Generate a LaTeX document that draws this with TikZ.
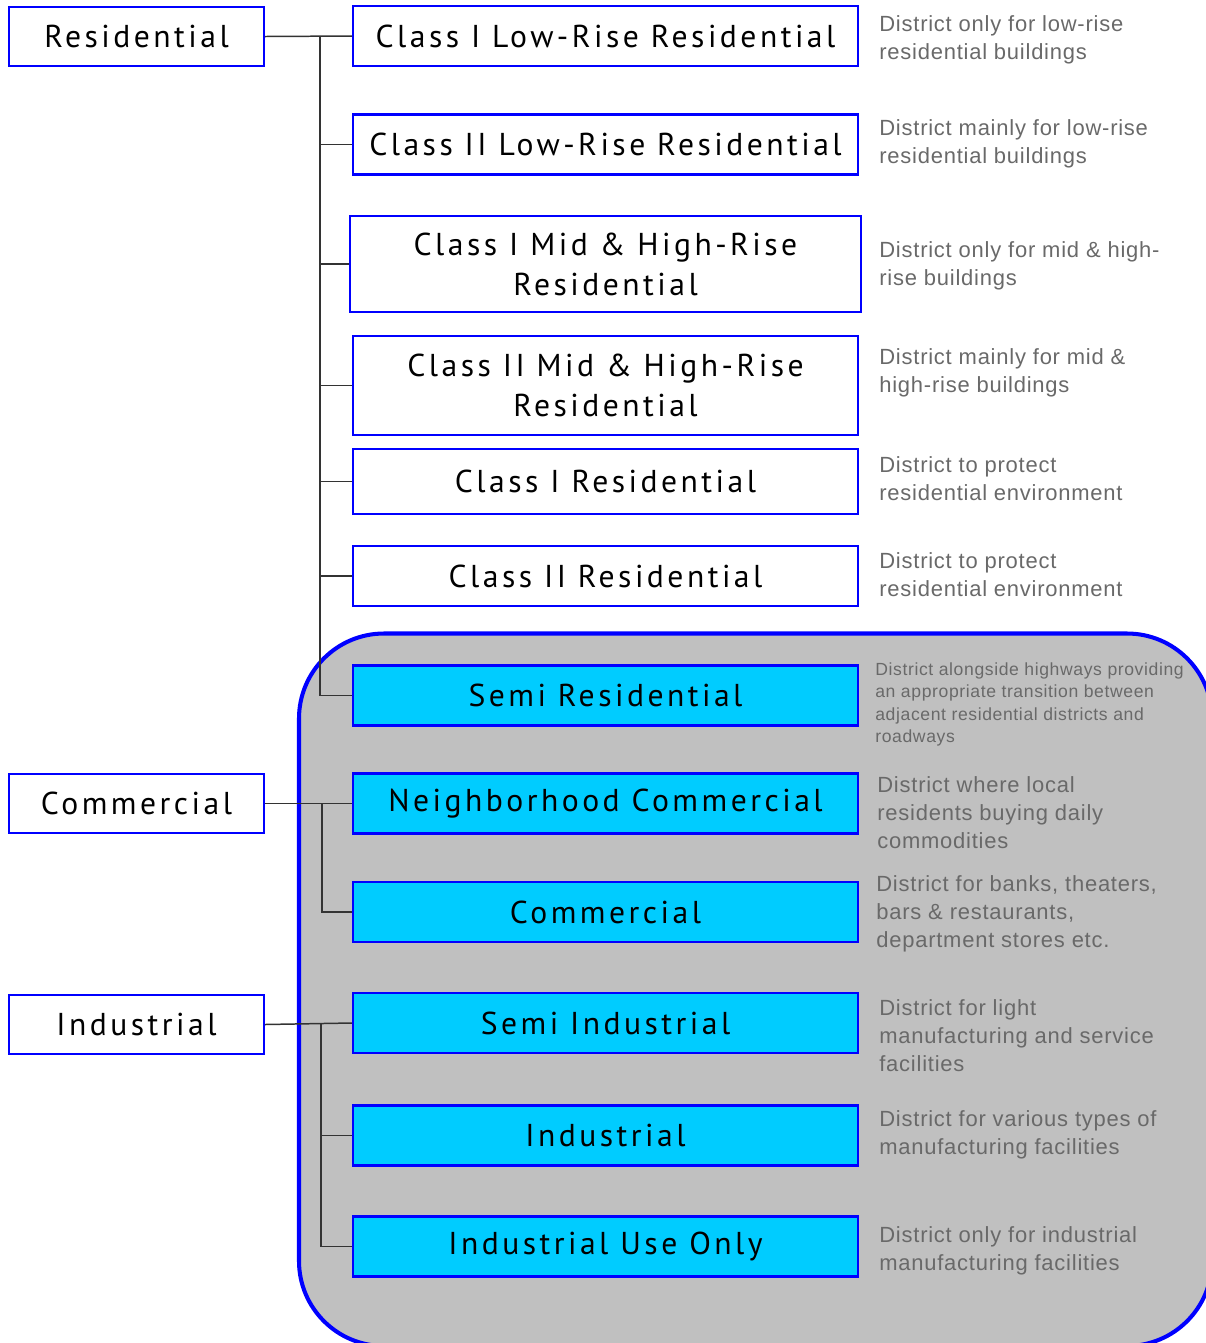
\documentclass[tikz,border=0pt]{standalone}
\usepackage{fontspec}
\newfontfamily\boitefont[LetterSpace=11]{PT Sans}
\newfontfamily\legendefont[LetterSpace=3.5]{Liberation Sans}
\definecolor{bleuBord}{RGB}{0,0,255}
\definecolor{cyanBoite}{RGB}{0,204,255}
\definecolor{grisFond}{RGB}{192,192,192}
\definecolor{grisLien}{RGB}{51,51,51}
\definecolor{grisTexte}{RGB}{105,105,105}
\begin{document}
\begin{tikzpicture}
	\tikzstyle{boite}=[draw=bleuBord,line width=1.4pt,fill=white,minimum width=10.1cm,minimum height=1.2cm,inner sep=0pt,align=center,font=\boitefont\fontsize{18}{22.7}\selectfont]
	\tikzstyle{boiteB}=[boite,fill=cyanBoite]
	\tikzstyle{groupe}=[boite,minimum width=5.1cm,minimum height=1.18cm]
	\tikzstyle{lien}=[draw=grisLien,line width=0.85pt]
	\tikzstyle{legende}=[anchor=west,align=left,inner sep=0pt,text=grisTexte,font=\legendefont\fontsize{12.5}{15.9}\selectfont]
	\def\ColonneG{2.73}
	\def\ColonneD{12.11}
	\def\ColonneL{17.58}
	\useasboundingbox (0,0) rectangle (24.12,-26.86);
	% zone grise
	\draw[fill=grisFond,draw=bleuBord,line width=2.3pt,rounded corners=1.7cm] (5.98,-12.67) rectangle (24.24,-26.92);
	% groupes
	\node[groupe] (Res) at (\ColonneG,-0.73) {Residential};
	\node[groupe] (Com) at (\ColonneG,-16.07) {Commercial};
	\node[groupe] (Ind) at (\ColonneG,-20.49) {Industrial};
	% zones
	\node[boite] (BasI) at (\ColonneD,-0.72) {Class I Low-Rise Residential};
	\node[boite] (BasII) at (\ColonneD,-2.89) {Class II Low-Rise Residential};
	\node[boite,minimum width=10.22cm,minimum height=1.92cm] (MoyI) at (\ColonneD,-5.28) {Class I Mid \& High-Rise\\Residential};
	\node[boite,minimum height=1.98cm] (MoyII) at (\ColonneD,-7.71) {Class II Mid \& High-Rise\\Residential};
	\node[boite,minimum height=1.3cm] (ResI) at (\ColonneD,-9.63) {Class I Residential};
	\node[boite] (ResII) at (\ColonneD,-11.52) {Class II Residential};
	\node[boiteB] (SemiRes) at (\ColonneD,-13.91) {Semi Residential};
	\node[boiteB] (Voisin) at (\ColonneD,-16.07) {Neighborhood Commercial};
	\node[boiteB] (Comm) at (\ColonneD,-18.24) {Commercial};
	\node[boiteB] (SemiInd) at (\ColonneD,-20.46) {Semi Industrial};
	\node[boiteB] (Indu) at (\ColonneD,-22.71) {Industrial};
	\node[boiteB] (IndSeul) at (\ColonneD,-24.93) {Industrial Use Only};
	% legendes
	\node[legende] (L1) at (\ColonneL,-0.79) {District only for low-rise\\residential buildings};
	\node[legende] (L2) at (\ColonneL,-2.88) {District mainly for low-rise\\residential buildings};
	\node[legende] (L3) at (\ColonneL,-5.32) {District only for mid \& high-\\rise buildings};
	\node[legende] (L4) at (\ColonneL,-7.46) {District mainly for mid \&\\high-rise buildings};
	\node[legende] (L5) at (\ColonneL,-9.58) {District to protect\\residential environment};
	\node[legende] (L6) at (\ColonneL,-11.50) {District to protect\\residential environment};
	\node[legende,font=\legendefont\fontsize{10}{12.8}\selectfont] (L7) at (17.5,-14.09) {District alongside highways providing\\an appropriate transition between\\adjacent residential districts and\\roadways};
	\node[legende] (L8) at (17.54,-16.26) {District where local\\residents buying daily\\commodities};
	\node[legende] (L9) at (17.52,-18.28) {District for banks, theaters,\\bars \& restaurants,\\department stores etc.};
	\node[legende] (L10) at (\ColonneL,-20.72) {District for light\\manufacturing and service\\facilities};
	\node[legende] (L11) at (\ColonneL,-22.70) {District for various types of\\manufacturing facilities};
	\node[legende] (L12) at (\ColonneL,-25.02) {District only for industrial\\manufacturing facilities};
	% liens
	\coordinate (rT) at (6.40,-0.72);
	\coordinate (cT) at (6.44,-16.07);
	\coordinate (iT) at (6.42,-20.47);
	\draw[lien] (Res.east) -- (BasI.west);
	\draw[lien] (rT) |- (SemiRes.west);
	\foreach \n in {BasII,MoyI,MoyII,ResI,ResII}
		\draw[lien] (\n.west) -- (\n.west -| rT);
	\draw[lien] (Com.east) -- (Voisin.west);
	\draw[lien] (cT) |- (Comm.west);
	\draw[lien] (Ind.east) -- (SemiInd.west);
	\draw[lien] (iT) |- (IndSeul.west);
	\draw[lien] (Indu.west) -- (Indu.west -| iT);
\end{tikzpicture}
\end{document}
